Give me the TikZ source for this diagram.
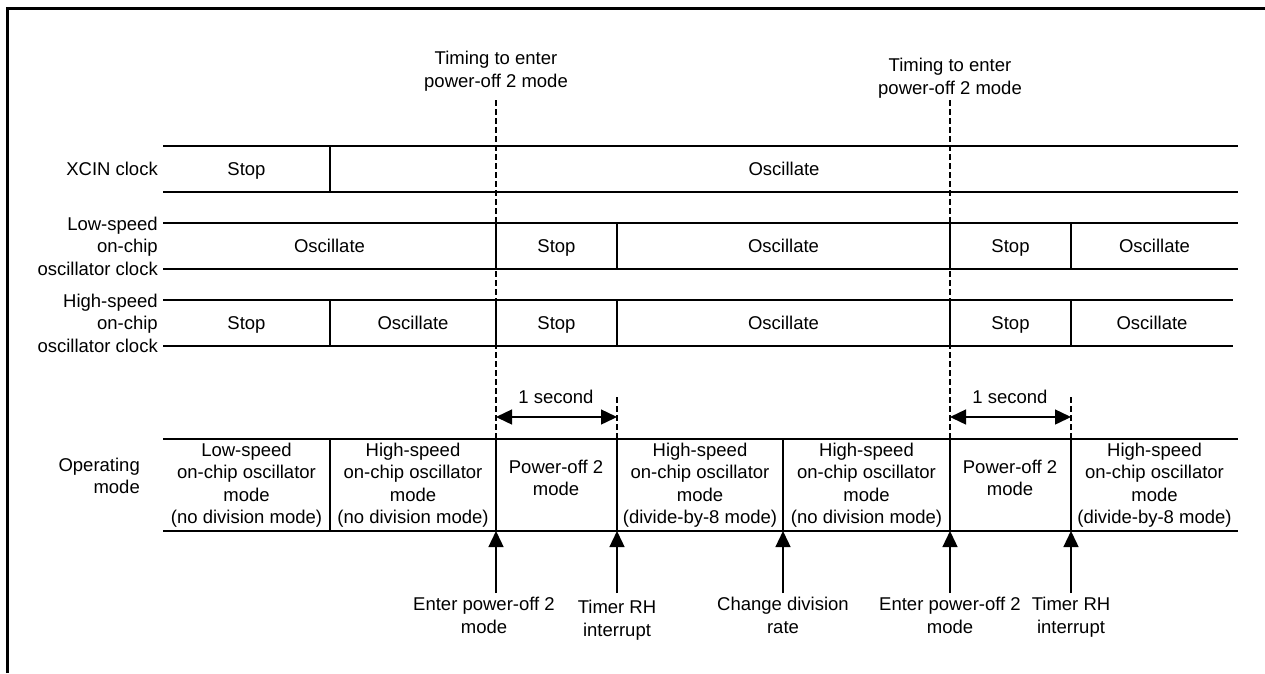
\documentclass[tikz,border=0pt]{standalone}
\usepackage{fontspec}
\setmainfont{Liberation Sans}
\usetikzlibrary{arrows.meta}

\tikzset{
  lbl/.style={align=center, inner sep=0pt, font=\fontsize{18.5}{22.5}\selectfont},
  cell/.style={lbl, text height=13.3pt, text depth=0pt},
  rowlbl/.style={lbl, align=right, anchor=east},
  row/.style={line width=1.4pt},
  timeline/.style={line width=1.1pt, dash pattern=on 6pt off 3pt},
  evt/.style={line width=1.4pt, -{Triangle[length=16pt,width=15pt]}},
  span/.style={line width=1.4pt, {Triangle[length=16pt,width=15pt]}-{Triangle[length=16pt,width=15pt]}}
}

\begin{document}
\begin{tikzpicture}[x=1pt, y=-1pt]
        \useasboundingbox (0,0) rectangle (1265,673);

        % rámeček
        \draw[line width=3pt] (7.5,673) -- (7.5,8.5) -- (1265,8.5);

        % okamžiky přechodu
        \coordinate (t2) at (496,439);
        \coordinate (t3) at (617,439);
        \coordinate (t5) at (950,439);
        \coordinate (t6) at (1071,439);

        % časování vstupu do power-off 2
        \node[lbl] (timing1) at (496,71) {Timing to enter\\power-off 2 mode};
        \node[lbl] (timing2) at (950,78) {Timing to enter\\power-off 2 mode};
        \draw[timeline] (496,100) coordinate (d2) -- (t2);
        \draw[timeline] (950,100) coordinate (d5) -- (t5);
        \draw[timeline] (617,397) coordinate (d3) -- (t3);
        \draw[timeline] (1071,397) coordinate (d6) -- (t6);

        % XCIN clock
        \node[rowlbl] (xcin) at (158,169) {XCIN clock};
        \draw[row] (163,146) -- (1238,146);
        \draw[row] (163,192) -- (1238,192);
        \draw[row] (330,146) -- (330,192);
        \path (163,169) -- node[cell] {Stop} (330,169)
        -- node[cell] {Oscillate} (1238,169);

        % low-speed on-chip oscillator clock
        \node[rowlbl] (loco) at (158,246) {Low-speed\\on-chip\\oscillator clock};
        \draw[row] (163,223) -- (1238,223);
        \draw[row] (163,269) -- (1238,269);
        \foreach \x in {496,617,950,1071}
            \draw[row] (\x,223) -- (\x,269);
        \path (163,246) -- node[cell] {Oscillate} (496,246)
        -- node[cell] {Stop} (617,246)
        -- node[cell] {Oscillate} (950,246)
        -- node[cell] {Stop} (1071,246)
        -- node[cell] {Oscillate} (1238,246);

        % high-speed on-chip oscillator clock
        \node[rowlbl] (hoco) at (158,323) {High-speed\\on-chip\\oscillator clock};
        \draw[row] (163,300) -- (1233,300);
        \draw[row] (163,346) -- (1233,346);
        \foreach \x in {330,496,617,950,1071}
            \draw[row] (\x,300) -- (\x,346);
        \path (163,323) -- node[cell] {Stop} (330,323)
        -- node[cell] {Oscillate} (496,323)
        -- node[cell] {Stop} (617,323)
        -- node[cell] {Oscillate} (950,323)
        -- node[cell] {Stop} (1071,323)
        -- node[cell] {Oscillate} (1233,323);

        % 1 sekunda
        \node[lbl] (sec1) at (556,397) {1 second};
        \node[lbl] (sec2) at (1010,397) {1 second};
        \draw[span] (d2 |- 0,417) -- (d3 |- 0,417);
        \draw[span] (d5 |- 0,417) -- (d6 |- 0,417);

        % operating mode
        \node[rowlbl] (opmode) at (140,476) {Operating\\mode};
        \draw[row] (163,439) -- (1238,439);
        \draw[row] (163,531) -- (1238,531);
        \foreach \x in {330,496,617,783,950,1071}
            \draw[row] (\x,439) -- (\x,531);
        \path (163,485) -- node[lbl] {Low-speed\\on-chip oscillator\\mode\\(no division mode)} (330,485)
        -- node[lbl] {High-speed\\on-chip oscillator\\mode\\(no division mode)} (496,485);
        \node[lbl] (poff1) at (556,478) {Power-off 2\\mode};
        \path (617,485) -- node[lbl] {High-speed\\on-chip oscillator\\mode\\(divide-by-8 mode)} (783,485)
        -- node[lbl] {High-speed\\on-chip oscillator\\mode\\(no division mode)} (950,485);
        \node[lbl] (poff2) at (1010,478) {Power-off 2\\mode};
        \path (1071,485) -- node[lbl] {High-speed\\on-chip oscillator\\mode\\(divide-by-8 mode)} (1238,485);

        % události
        \node[lbl, anchor=north] (enter1) at (484,597) {Enter power-off 2\\mode};
        \node[lbl, anchor=north] (timer1) at (617,600) {Timer RH\\interrupt};
        \node[lbl, anchor=north] (divrate) at (783,597) {Change division\\rate};
        \node[lbl, anchor=north] (enter2) at (950,597) {Enter power-off 2\\mode};
        \node[lbl, anchor=north] (timer2) at (1071,597) {Timer RH\\interrupt};
        \foreach \x/\n in {496/1,617/2,783/3,950/4,1071/5} {
            \coordinate (a\n) at (\x,593);
            \coordinate (b\n) at (\x,531);
            \draw[evt] (a\n) -- (b\n);
        }

    \end{tikzpicture}
\end{document}
